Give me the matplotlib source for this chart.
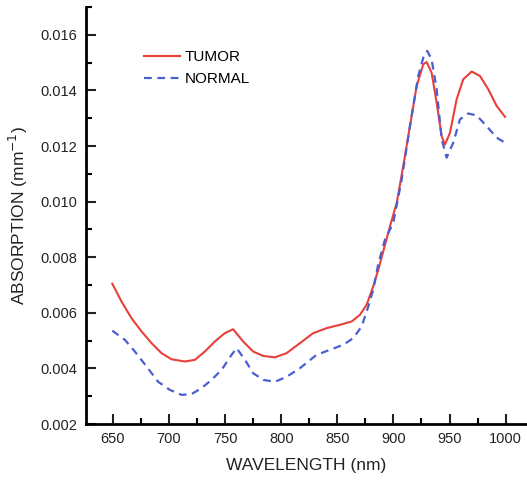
import numpy as np
import matplotlib
matplotlib.use("Agg")
import matplotlib.pyplot as plt
from matplotlib.ticker import MultipleLocator

plt.rcParams['font.family'] = ['Liberation Sans', 'DejaVu Sans']

# Tumor spectrum
wl_tumor = [649.5, 657.7, 666.6, 675.6, 684.5, 693.4, 702.3, 714.2, 723.1, 732, 740.9,
            749.8, 757.2, 766.1, 775, 784, 794.4, 804.8, 816.7, 828.5, 840.5, 852.3,
            862.8, 870.2, 876.1, 882, 886.5, 896.9, 902.9, 908.7, 914.7, 920.7, 926.6,
            929.6, 934, 938.5, 943, 945.9, 950.4, 956.3, 962.2, 969.7, 977.1, 984.5,
            992, 999.4]
abs_tumor = [0.00705, 0.00641, 0.00581, 0.00533, 0.00491, 0.00455, 0.00433, 0.00425,
             0.00431, 0.00461, 0.00497, 0.00527, 0.00541, 0.00497, 0.00461, 0.00445,
             0.0044, 0.00455, 0.00491, 0.00527, 0.00545, 0.00557, 0.00569, 0.00593,
             0.00629, 0.00695, 0.00755, 0.00911, 0.00995, 0.01127, 0.01271, 0.01416,
             0.01494, 0.01502, 0.01464, 0.01356, 0.01235, 0.01205, 0.01248, 0.01368,
             0.0144, 0.01468, 0.01452, 0.01404, 0.01344, 0.01305]

# Normal spectrum
wl_normal = [649.5, 660.7, 669.6, 680, 690.4, 700.8, 711.2, 720.1, 729, 737.9, 746.9,
             755.8, 760.3, 767.7, 775, 784, 794.4, 804.8, 816.7, 831.5, 843.4, 855.3,
             864.2, 871.7, 877.6, 882, 886.5, 892.4, 899.8, 907.3, 914.7, 922.1, 926.6,
             930.1, 934, 938.5, 943, 947.4, 953.3, 959.3, 966.7, 974.2, 983.1, 992,
             999.4]
abs_normal = [0.00536, 0.00503, 0.00461, 0.00407, 0.00352, 0.00323, 0.00305, 0.00308,
              0.00329, 0.00359, 0.00395, 0.00449, 0.00473, 0.00431, 0.00383, 0.00359,
              0.00352, 0.0037, 0.00401, 0.00449, 0.00467, 0.00485, 0.00509, 0.00551,
              0.00623, 0.00683, 0.00776, 0.00863, 0.00923, 0.01079, 0.01271, 0.01452,
              0.01518, 0.01542, 0.01512, 0.01404, 0.01224, 0.01158, 0.01212, 0.01296,
              0.01317, 0.0131, 0.01271, 0.0123, 0.01212]

fig = plt.figure(figsize=(5.27, 4.83), dpi=100)
ax = fig.add_axes([0.163, 0.122, 0.837, 0.8635])

ax.plot(wl_tumor, abs_tumor, color='#e8403a', lw=1.5, label='TUMOR')
ax.plot(wl_normal, abs_normal, color='#4a5fd0', lw=1.6, ls=(0, (3.5, 2.5)), label='NORMAL')

ax.set_xlim(626, 1019)
ax.set_ylim(0.002, 0.017)
ax.xaxis.set_major_locator(MultipleLocator(50))
ax.xaxis.set_minor_locator(MultipleLocator(25))
ax.yaxis.set_major_locator(MultipleLocator(0.002))
ax.yaxis.set_minor_locator(MultipleLocator(0.001))
ax.yaxis.set_major_formatter(plt.FormatStrFormatter('%.3f'))

ax.spines['top'].set_visible(False)
ax.spines['right'].set_visible(False)
ax.spines['left'].set_linewidth(2)
ax.spines['bottom'].set_linewidth(2)
ax.tick_params(which='major', direction='in', length=7, width=1.5, labelsize=10.5,
               colors='#222222', pad=6)
ax.tick_params(which='minor', direction='in', length=4, width=1.5)

ax.set_xlabel('WAVELENGTH (nm)', fontsize=12.5, color='#222222', labelpad=8)
ax.set_ylabel('ABSORPTION (mm$^{-1}$)', fontsize=12.5, color='#222222', labelpad=8)

ax.legend(loc='upper left', bbox_to_anchor=(0.1, 0.93), frameon=False, fontsize=11,
          handlelength=2.4, handletextpad=0.3, labelspacing=0.55)

fig.savefig('out.png', dpi=100)
